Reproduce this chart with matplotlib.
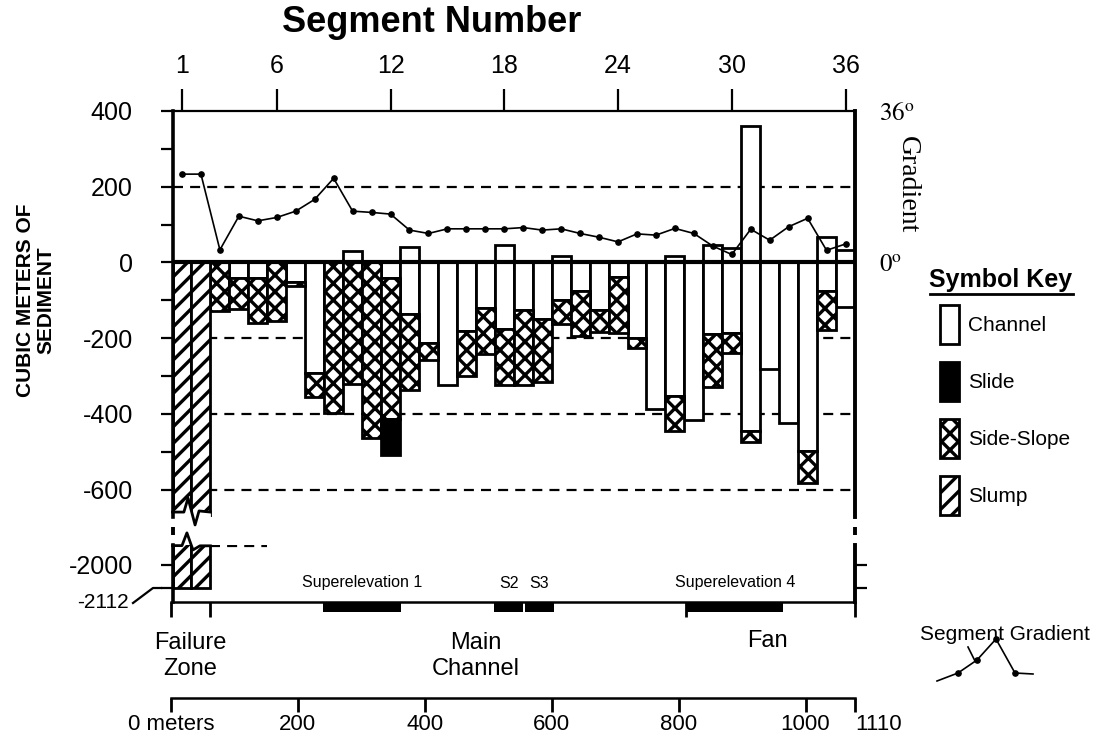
import numpy as np
import matplotlib
matplotlib.use("Agg")
import matplotlib.pyplot as plt
from matplotlib.patches import Patch
from matplotlib import transforms as mtrans
from matplotlib.ticker import NullLocator

plt.rcParams['font.family'] = ['Liberation Sans', 'DejaVu Sans']
plt.rcParams['mathtext.fontset'] = 'stix'
plt.rcParams['hatch.linewidth'] = 2.4
plt.rcParams['hatch.color'] = 'black'

# ---------------- data ----------------
segments = np.arange(1, 37)
# channel deposition (positive, white bars above zero)
channel_dep = np.array([0, 0, 0, 0, 0, 0, 0, 0, 0, 30, 0, 0, 40, 0, 0, 0, 0, 46,
                        0, 0, 17, 0, 0, 0, 0, 0, 17, 0, 46, 37, 361, 0, 0, 0, 68, 33])
# channel erosion (white, negative)
channel_ero = np.array([0, 0, 0, -40, -40, 0, -52, -293, 0, 0, 0, -40, -137, -213, -324, -180,
                        -120, -176, -126, -150, -99, -76, -126, -38, -199, -387, -352, -417,
                        -189, -185, -444, -281, -424, -499, -75, -117])
# side-slope erosion (cross hatched), stacked below channel
side_slope = np.array([0, 0, -128, -82, -120, -155, -10, -62, -398, -322, -463, -373, -200, -45,
                       0, -120, -122, -148, -197, -165, -64, -119, -57, -148, -28, 0, -92, 0,
                       -139, -54, -31, 0, 0, -82, -103, 0])
# slide (black), stacked below side-slope
slide = np.array([0] * 11 + [-95] + [0] * 24)
# slump (diagonal hatch)
slump = np.array([-2112, -2112] + [0] * 34)
# segment gradient in degrees
gradient_deg = np.array([21.0, 21.0, 3.0, 11.0, 9.9, 10.7, 12.2, 15.0, 20.0, 12.2, 11.9, 11.5,
                         7.7, 6.9, 8.0, 8.0, 8.0, 8.0, 8.3, 7.7, 8.0, 6.9, 6.0, 4.9,
                         6.8, 6.5, 8.1, 6.9, 3.9, 1.9, 7.9, 5.3, 8.5, 10.5, 2.9, 4.4])

top_ticks = [1, 6, 12, 18, 24, 30, 36]
left_major = [400, 200, 0, -200, -400, -600]
grid_levels = [200, -200, -400, -600]

meter_ticks = [0, 200, 400, 600, 800, 1000, 1110]
meter_labels = ['0 meters', '200', '400', '600', '800', '1000', '1110']
region_bounds = [0, 61, 811, 1110]
region_names = ['Failure\nZone', 'Main\nChannel', 'Fan']
region_label_x = [30, 480, 940]
superelev_names = ['Superelevation 1', 'S2', 'S3', 'Superelevation 4']
superelev_start = [239, 509, 558, 812]
superelev_end = [362, 555, 603, 965]

key_labels = ['Channel', 'Slide', 'Side-Slope', 'Slump']

# ---------------- layout helpers ----------------
W, H = 1100, 737
def fx(px):
    return px / W
def fy(py):
    return 1 - py / H

fig = plt.figure(figsize=(W / 100, H / 100), dpi=100)

X0, X1 = 172.5, 855.0
ax_up = fig.add_axes([fx(X0), fy(517), (X1 - X0) / W, (517 - 111) / H])
ax_lo = fig.add_axes([fx(X0), fy(602), (X1 - X0) / W, (602 - 545) / H])
for ax in (ax_up, ax_lo):
    ax.set_xlim(0.5, 36.5)
UP_LIM = (-672, 400)
ax_up.set_ylim(*UP_LIM)
ax_lo.set_ylim(-2180, -1903)

EDGE = 2.0
HATCH_SIDE = 'xx'
HATCH_SLUMP = '//'

def draw_bars(ax, vals, bottom=None, **kw):
    vals = np.asarray(vals, float)
    bottom = np.zeros_like(vals) if bottom is None else np.asarray(bottom, float)
    m = vals != 0
    return ax.bar(segments[m], vals[m], bottom=bottom[m], width=1.0,
                  edgecolor='black', linewidth=EDGE, zorder=1, **kw)

# dashed reference lines
for v in grid_levels:
    ax_up.axhline(v, color='black', lw=1.6, dashes=(4.5, 3.2), zorder=0.5)

# bars - upper panel
draw_bars(ax_up, channel_dep, facecolor='white')
draw_bars(ax_up, channel_ero, facecolor='white')
draw_bars(ax_up, side_slope, bottom=channel_ero, facecolor='white', hatch=HATCH_SIDE)
draw_bars(ax_up, slide, bottom=channel_ero + side_slope, facecolor='black')
draw_bars(ax_up, slump, facecolor='white', hatch=HATCH_SLUMP)
ax_up.axhline(0, color='black', lw=3.0, zorder=4)

# break of slump bars (upper)
brk_up_x = [0.5, 1.1, 1.32, 1.69, 1.9, 2.5]
brk_up_y = [-659, -659, -622, -693, -656, -659]
ax_up.fill_between(brk_up_x, brk_up_y, -720, color='white', lw=0, zorder=2)
ax_up.plot(brk_up_x, brk_up_y, color='black', lw=EDGE, clip_on=False, zorder=3)

# lower panel
draw_bars(ax_lo, slump, facecolor='white', hatch=HATCH_SLUMP)
brk_lo_x = [0.5, 1.0, 1.26, 1.58, 1.95, 2.5]
brk_lo_y = [-1906, -1906, -1844, -1927, -1907, -1907]
ax_lo.fill_between(brk_lo_x, brk_lo_y, -1800, color='white', lw=0, zorder=2)
ax_lo.plot(brk_lo_x, brk_lo_y, color='black', lw=EDGE, clip_on=False, zorder=3)
ax_lo.hlines(-1907, 2.5, 5.5, color='black', lw=1.6, linestyles=(0, (4.5, 3.2)), zorder=0.5)

# spines / ticks upper
ax_up.spines['bottom'].set_visible(False)
ax_up.spines['left'].set_linewidth(2.6)
ax_up.spines['right'].set_linewidth(2.8)
ax_up.spines['top'].set_linewidth(1.6)
ax_up.set_yticks(left_major)
ax_up.set_yticklabels([str(v) for v in left_major])
ax_up.set_yticks(np.arange(-600, 401, 100), minor=True)
ax_up.tick_params(axis='y', which='both', direction='out', length=8.6, width=1.6,
                  left=True, right=True, labelleft=True, labelright=False,
                  labelsize=18, pad=20)
ax_up.xaxis.tick_top()
ax_up.set_xticks(top_ticks)
ax_up.set_xticklabels([str(t) for t in top_ticks])
ax_up.xaxis.set_minor_locator(NullLocator())
ax_up.tick_params(axis='x', direction='out', length=16, width=1.6, labelsize=18, pad=8)

# spines / ticks lower
ax_lo.spines['top'].set_visible(False)
ax_lo.spines['bottom'].set_visible(False)
ax_lo.spines['left'].set_linewidth(2.6)
ax_lo.spines['right'].set_linewidth(2.8)
ax_lo.set_xticks([])
ax_lo.set_yticks([-2112, -2000])
ax_lo.set_yticklabels(['', '-2000'])
ax_lo.tick_params(axis='y', direction='out', length=8.6, width=1.6, left=True, right=True,
                  labelsize=18, pad=20)

# gradient on twin axis
DEG_PER_UNIT = 36 / 400
ax2 = ax_up.twinx()
ax2.set_ylim(UP_LIM[0] * DEG_PER_UNIT, UP_LIM[1] * DEG_PER_UNIT)
for s in ax2.spines.values():
    s.set_visible(False)
ax2.set_yticks([0, 36])
ax2.set_yticklabels([r'$0^{\mathrm{o}}$', r'$36^{\mathrm{o}}$'])
ax2.tick_params(axis='y', length=0, pad=17, labelsize=18)
ax2.plot(segments, gradient_deg, color='black', lw=1.2, marker='o', ms=3.8, zorder=5)
tr = mtrans.blended_transform_factory(ax2.transAxes, ax2.transData)
ax2.text(1.077, 18.4, 'Gradient', transform=tr, rotation=270, ha='center', va='center',
         fontsize=20, family='Liberation Serif')

# ---------------- region / superelevation strip ----------------
meter_knots = [0, 1000, 1110]
meter_pos = [0, 1000, 1078]
def m_fwd(m):
    return np.interp(m, meter_knots, meter_pos)
def m_inv(u):
    return np.interp(u, meter_pos, meter_knots)

ax_reg = fig.add_axes([fx(171), fy(617), (855 - 171) / W, 15 / H])
ax_reg.set_facecolor('none')
ax_reg.set_xscale('function', functions=(m_fwd, m_inv))
ax_reg.set_xlim(0, 1110)
ax_reg.set_ylim(0, 15)
for k in ('left', 'right', 'bottom'):
    ax_reg.spines[k].set_visible(False)
ax_reg.spines['top'].set_linewidth(1.8)
ax_reg.xaxis.set_ticks_position('top')
ax_reg.set_xticks(region_bounds)
ax_reg.xaxis.set_minor_locator(NullLocator())
ax_reg.tick_params(axis='x', direction='in', length=10.8, width=2.0, labeltop=False)
ax_reg.set_yticks([])
ax_reg.broken_barh([(s, e - s) for s, e in zip(superelev_start, superelev_end)], (5, 10),
                   facecolors='black')
for name, s, e in zip(superelev_names, superelev_start, superelev_end):
    ax_reg.text((s + e) / 2, 34, name, ha='center', va='center', fontsize=11.5, clip_on=False)
for name, xm in zip(region_names, region_label_x):
    yy = -39 if '\n' in name else -24
    ax_reg.text(xm, yy, name, ha='center', va='center', fontsize=17, linespacing=1.25,
                clip_on=False)

# meters axis
ax_m = fig.add_axes([fx(171), fy(698), (855 - 171) / W, 1 / H])
ax_m.set_facecolor('none')
ax_m.set_xscale('function', functions=(m_fwd, m_inv))
ax_m.set_xlim(0, 1110)
for k in ('left', 'right', 'top'):
    ax_m.spines[k].set_visible(False)
ax_m.spines['bottom'].set_linewidth(1.8)
ax_m.set_yticks([])
ax_m.set_xticks(meter_ticks)
ax_m.set_xticklabels(meter_labels)
ax_m.xaxis.set_minor_locator(NullLocator())
ax_m.tick_params(axis='x', direction='out', length=10, width=2.0, labelsize=16, pad=1.5)
ax_m.get_xticklabels()[-1].set_horizontalalignment('left')

# ---------------- overlay (annotations in pixel space) ----------------
ax_ov = fig.add_axes([0, 0, 1, 1])
ax_ov.set_xlim(0, W)
ax_ov.set_ylim(H, 0)
ax_ov.axis('off')
ax_ov.patch.set_alpha(0)
# axis break dashes on spines
for xs in (X0, X1):
    ax_ov.plot([xs, xs], [527, 535], color='black', lw=2.8, solid_capstyle='butt')
# -2112 leader
ax_ov.plot([133, 153, 161], [603, 588, 588], color='black', lw=1.6)
ax_ov.text(129, 603, '-2112', ha='right', va='center', fontsize=15)

# titles
ax_ov.text(432, 22, 'Segment Number', ha='center', va='center', fontsize=26, fontweight='bold')
ax_ov.text(36, 300, 'CUBIC METERS OF\nSEDIMENT', rotation=90, ha='center', va='center',
           fontsize=15, fontweight='bold', linespacing=1.1, multialignment='center')

# symbol key
ax_ov.text(1001, 280, 'Symbol Key', ha='center', va='center', fontsize=18, fontweight='bold')
ax_ov.plot([930, 1073], [294, 294], color='black', lw=2.0)
handles = [Patch(facecolor='white', edgecolor='black', linewidth=EDGE),
           Patch(facecolor='black', edgecolor='black', linewidth=EDGE),
           Patch(facecolor='white', edgecolor='black', linewidth=EDGE, hatch=HATCH_SIDE),
           Patch(facecolor='white', edgecolor='black', linewidth=EDGE, hatch=HATCH_SLUMP)]
fig.legend(handles, key_labels, loc='upper left', bbox_to_anchor=(fx(940), fy(305)),
           frameon=False, fontsize=15, handlelength=0.91, handleheight=2.51,
           handletextpad=0.45, labelspacing=0.86, borderpad=0, borderaxespad=0)

# segment gradient key
key_x = [937, 958, 977, 996, 1015, 1033]
key_y = [681, 673, 660, 639, 673, 674]
ax_ov.text(1005, 634, 'Segment Gradient', ha='center', va='center', fontsize=15)
ax_ov.plot(key_x, key_y, color='black', lw=1.2)
ax_ov.plot(key_x[1:-1], key_y[1:-1], 'o', color='black', ms=3.8)
ax_ov.plot([968, 975], [647, 661], color='black', lw=1.2)

fig.savefig('out.png', dpi=100)
